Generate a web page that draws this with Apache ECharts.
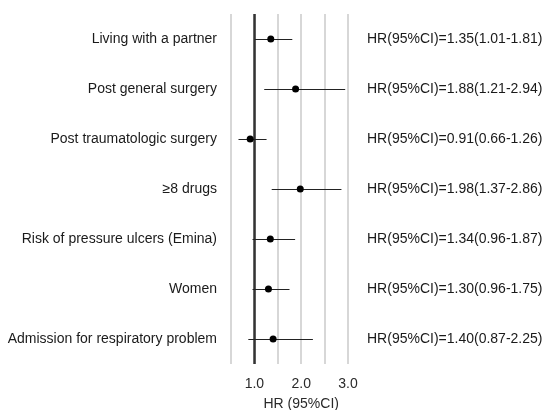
<!DOCTYPE html>
<html>
<head>
<meta charset="utf-8">
<script src="https://cdn.jsdelivr.net/npm/echarts@6/dist/echarts.min.js"></script>
<style>
  html, body { margin: 0; padding: 0; background: #fff; }
  #chart { width: 542px; height: 410px; }
</style>
</head>
<body>
<div id="chart"></div>
<script>
// Hazard ratios with 95% confidence intervals, one row per factor
const factors = [
  'Living with a partner',
  'Post general surgery',
  'Post traumatologic surgery',
  '\u22658 drugs',
  'Risk of pressure ulcers (Emina)',
  'Women',
  'Admission for respiratory problem'
];
const hr    = [1.35, 1.88, 0.91, 1.98, 1.34, 1.30, 1.40];
const lower = [1.01, 1.21, 0.66, 1.37, 0.96, 0.96, 0.87];
const upper = [1.81, 2.94, 1.26, 2.86, 1.87, 1.75, 2.25];
const xTicks = [0.5, 1.0, 1.5, 2.0, 2.5, 3.0];
const refValue = 1.0;

const hrText = hr.map((v, i) =>
  'HR(95%CI)=' + v.toFixed(2) + '(' + lower[i].toFixed(2) + '-' + upper[i].toFixed(2) + ')');

const FONT = '"Liberation Sans", Arial, sans-serif';
const chart = echarts.init(document.getElementById('chart'));

const option = {
  animation: false,
  backgroundColor: '#fff',
  textStyle: { fontFamily: FONT },
  grid: {
    left: 231, right: 194, top: 14, bottom: 46,
    containLabel: false,
    outerBoundsMode: 'none'
  },
  xAxis: {
    type: 'value',
    min: xTicks[0],
    max: xTicks[xTicks.length - 1],
    interval: 0.5,
    axisLine: { show: false },
    axisTick: { show: false },
    splitLine: { show: true, lineStyle: { color: '#cacaca', width: 1.5 } },
    axisLabel: {
      margin: 13,
      fontFamily: FONT,
      fontSize: 14,
      color: '#2a2a2a',
      showMinLabel: true,
      showMaxLabel: true,
      formatter: v => (Math.abs(v - Math.round(v)) < 1e-9 ? v.toFixed(1) : '')
    }
  },
  yAxis: [
    {
      type: 'category',
      data: factors,
      inverse: true,
      axisLine: { show: false },
      axisTick: { show: false },
      splitLine: { show: false },
      axisLabel: { margin: 14, fontFamily: FONT, fontSize: 14, color: '#1a1a1a' }
    },
    {
      type: 'category',
      data: hrText,
      inverse: true,
      position: 'right',
      axisLine: { show: false },
      axisTick: { show: false },
      splitLine: { show: false },
      axisLabel: { margin: 19, fontFamily: FONT, fontSize: 14, color: '#1a1a1a' }
    }
  ],
  series: [
    {
      // confidence interval whiskers
      type: 'custom',
      data: factors.map((f, i) => [lower[i], upper[i], i]),
      encode: { x: [0, 1], y: 2 },
      renderItem: (params, api) => {
        const a = api.coord([api.value(0), api.value(2)]);
        const b = api.coord([api.value(1), api.value(2)]);
        const y = Math.round(a[1]) + 0.5;
        return {
          type: 'line',
          shape: { x1: a[0], y1: y, x2: b[0], y2: y },
          style: { stroke: '#222', lineWidth: 1 }
        };
      },
      z: 3
    },
    {
      type: 'scatter',
      data: factors.map((f, i) => [hr[i], i]),
      symbol: 'circle',
      symbolSize: 7,
      itemStyle: { color: '#000', opacity: 1 },
      z: 4,
      markLine: {
        silent: true,
        symbol: 'none',
        label: { show: false },
        lineStyle: { color: '#333', width: 2.5, type: 'solid' },
        data: [{ xAxis: refValue }],
        z: 2
      }
    }
  ]
};
chart.setOption(option);

// axis title centred under the 2.0 tick
const titleX = chart.convertToPixel({ xAxisIndex: 0 }, 2.0);
chart.setOption({
  graphic: [{
    type: 'text',
    x: titleX,
    y: 404,
    style: {
      text: 'HR (95%CI)',
      font: '14px ' + FONT,
      fill: '#2a2a2a',
      textAlign: 'center',
      textVerticalAlign: 'middle'
    }
  }]
});
</script>
</body>
</html>
